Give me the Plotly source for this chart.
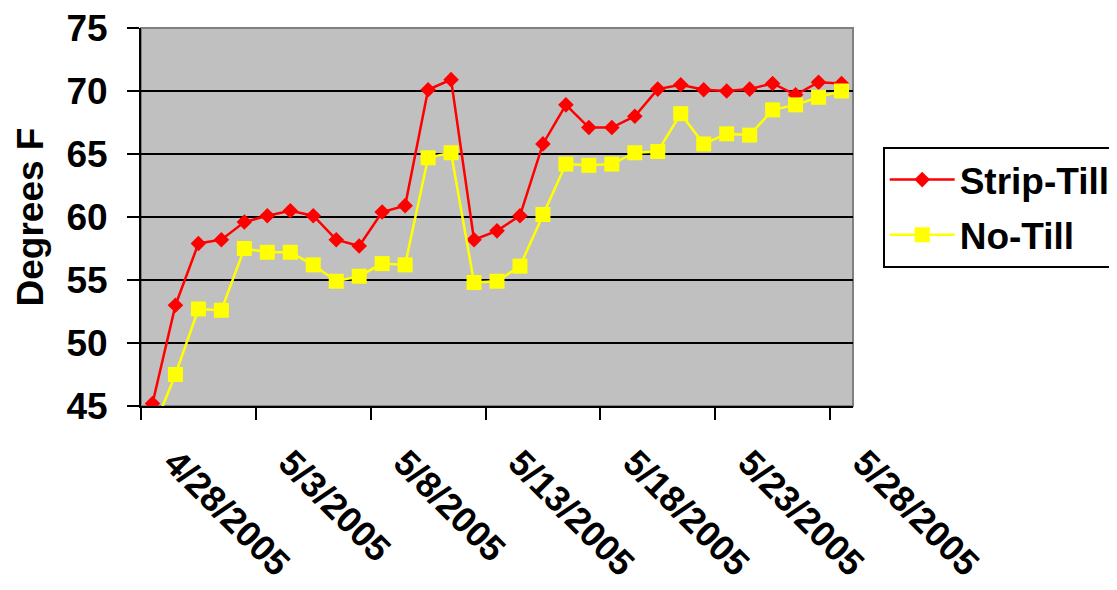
import plotly.graph_objects as go

dates = ["4/28/2005", "4/29/2005", "4/30/2005", "5/1/2005", "5/2/2005", "5/3/2005",
         "5/4/2005", "5/5/2005", "5/6/2005", "5/7/2005", "5/8/2005", "5/9/2005",
         "5/10/2005", "5/11/2005", "5/12/2005", "5/13/2005", "5/14/2005", "5/15/2005",
         "5/16/2005", "5/17/2005", "5/18/2005", "5/19/2005", "5/20/2005", "5/21/2005",
         "5/22/2005", "5/23/2005", "5/24/2005", "5/25/2005", "5/26/2005", "5/27/2005",
         "5/28/2005"]

strip_till = [45.2, 53.0, 57.9, 58.2, 59.6, 60.1, 60.5, 60.1, 58.2, 57.7, 60.4,
              60.9, 70.1, 70.9, 58.2, 58.9, 60.1, 65.8, 68.9, 67.1, 67.1, 68.0,
              70.15, 70.5, 70.1, 70.0, 70.15, 70.6, 69.7, 70.7, 70.6]

no_till = [43.0, 47.5, 52.7, 52.6, 57.5, 57.2, 57.2, 56.2, 54.9, 55.3, 56.3,
           56.2, 64.7, 65.1, 54.8, 54.9, 56.1, 60.2, 64.2, 64.1, 64.2, 65.1,
           65.2, 68.2, 65.8, 66.6, 66.5, 68.5, 68.9, 69.5, 70.0]

y_ticks = [45, 50, 55, 60, 65, 70, 75]
grid_vals = [50, 55, 60, 65, 70]

FONT = "Liberation Sans, Arial, sans-serif"

fig = go.Figure()
fig.add_trace(go.Scatter(
    x=dates, y=strip_till, name="Strip-Till", mode="lines+markers",
    line=dict(color="#FF0000", width=2.5),
    marker=dict(symbol="diamond", size=12, color="#FF0000"),
    legendgroup="a",
))
fig.add_trace(go.Scatter(
    x=dates, y=no_till, name="No-Till", mode="lines+markers",
    line=dict(color="#FFFF00", width=2.5),
    marker=dict(symbol="square", size=15, color="#FFFF00"),
    legendgroup="b",
))

fig.update_layout(
    width=1109, height=582,
    margin=dict(l=133, r=264, t=19.6, b=184, autoexpand=False),
    paper_bgcolor="white",
    plot_bgcolor="#C0C0C0",
    font=dict(family=FONT, size=37, color="black", weight="bold"),
    showlegend=True,
    legend=dict(
        x=1.0417, y=0.685, xanchor="left", yanchor="top",
        bgcolor="white", bordercolor="black", borderwidth=2,
        font=dict(family=FONT, size=37, color="black", weight="bold"),
        itemwidth=65, tracegroupgap=4, traceorder="grouped",
    ),
    xaxis=dict(
        type="category", range=[-0.5, 30.5],
        tickmode="linear", tick0=0, dtick=5,
        tickson="boundaries",
        ticks="outside", ticklen=12, tickwidth=2, tickcolor="black",
        tickangle=45, ticklabelstandoff=19, ticklabelshift=22,
        ticklabeloverflow="allow",
        showline=True, linecolor="black", linewidth=2,
        showgrid=False, zeroline=False,
        tickfont=dict(family=FONT, size=36, color="black", weight="bold"),
    ),
    yaxis=dict(
        range=[45, 75], tickvals=y_ticks,
        ticks="outside", ticklen=12, tickwidth=2, tickcolor="black",
        ticklabelstandoff=12, ticklabeloverflow="allow",
        showline=True, linecolor="black", linewidth=2,
        showgrid=False, zeroline=False,
        title=dict(text="Degrees F", standoff=11,
                   font=dict(family=FONT, size=37, color="black", weight="bold")),
        tickfont=dict(family=FONT, size=37, color="black", weight="bold"),
    ),
    yaxis2=dict(
        overlaying="y", range=[45, 75], tickvals=grid_vals,
        showticklabels=False, ticks="", showgrid=True,
        gridcolor="black", gridwidth=2, zeroline=False, showline=False,
        layer="below traces",
    ),
    shapes=[dict(type="rect", xref="paper", yref="paper", x0=0, x1=1, y0=0, y1=1,
                 line=dict(color="#808080", width=2), fillcolor="rgba(0,0,0,0)",
                 layer="below")],
)
# invisible trace to activate the gridline axis
fig.add_trace(go.Scatter(x=[dates[0]], y=[60], yaxis="y2", mode="markers",
                         marker=dict(opacity=0), showlegend=False, hoverinfo="skip"))

fig.write_html("out.html")
